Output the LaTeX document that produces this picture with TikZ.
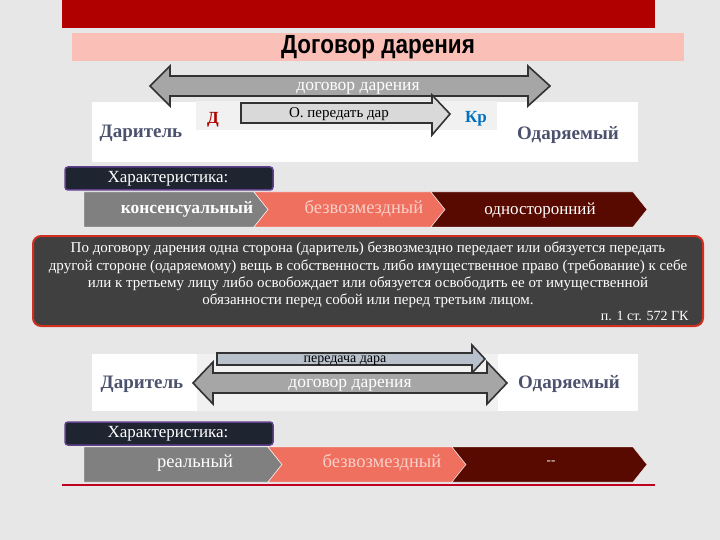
\documentclass[tikz,border=0pt]{standalone}
\usepackage{fontspec}
\setmainfont{Liberation Serif}
\newfontfamily\titlefont{Liberation Sans}
\usetikzlibrary{calc}
\definecolor{dgbg}{RGB}{231,231,231}
\definecolor{dgbar}{RGB}{176,0,0}
\definecolor{dgpink}{RGB}{250,192,184}
\definecolor{dgarrow}{RGB}{166,166,166}
\definecolor{dgshaft}{RGB}{217,217,217}
\definecolor{dgedge}{RGB}{50,50,50}
\definecolor{dgparty}{RGB}{76,82,110}
\definecolor{dgnavy}{RGB}{30,36,48}
\definecolor{dgpurple}{RGB}{96,64,140}
\definecolor{dggray}{RGB}{128,128,128}
\definecolor{dgsalmon}{RGB}{240,112,96}
\definecolor{dgmaroon}{RGB}{88,10,0}
\definecolor{dgbox}{RGB}{64,64,64}
\definecolor{dgred}{RGB}{208,48,32}
\definecolor{dgline}{RGB}{192,0,32}
\definecolor{dgblue}{RGB}{0,112,192}
\definecolor{dgpass}{RGB}{184,192,204}
\definecolor{dgpale}{RGB}{248,208,200}

\tikzset{
  party/.style={text=dgparty,font=\bfseries\fontsize{19}{21}\selectfont},
  arrowlbl/.style={text=white,font=\fontsize{17.5}{19}\selectfont},
  charbox/.style={fill=dgnavy,draw=dgpurple,line width=1.5pt,rounded corners=3pt},
  charlbl/.style={text=white,font=\fontsize{17}{19}\selectfont},
  chevlbl/.style={text=white,font=\fontsize{18.5}{20}\selectfont},
  blockarrow/.style={draw=dgedge,line width=1.6pt,line join=miter}
}

\begin{document}
\begin{tikzpicture}[x=1pt,y=-1pt]
    \useasboundingbox (0,0) rectangle (720,540);
    \fill[dgbg] (0,0) rectangle (720,540);
    % heading
    \fill[dgbar] (62,0) rectangle (655,28);
    \fill[dgpink] (72,33) rectangle (684,61);
    \node (title) at (378,47) {\titlefont\bfseries\fontsize{25}{25}\selectfont\scalebox{0.9}[1.05]{Договор дарения}};

    % upper scheme
    \fill[white] (92,102) rectangle (638,162);
    \fill[dgbg!60] (196,101) rectangle (497,130);
    \filldraw[blockarrow,fill=dgarrow] (150,86)--(170,66)--(170,76)--(528,76)--(528,66)--(550,86)--(528,106)--(528,96)--(170,96)--(170,106)--cycle;
    \node[arrowlbl] (contract1) at (358,88) {договор дарения};
    \filldraw[blockarrow,fill=dgshaft] (241,103)--(432,103)--(432,95)--(450,114)--(432,135)--(432,123)--(241,123)--cycle;
    \node[font=\fontsize{15}{17}\selectfont] (duty) at (339,114) {О. передать дар};
    \node[text=dgbar,font=\bfseries\fontsize{17}{19}\selectfont] (debtor) at (213,120) {Д};
    \node[text=dgblue,font=\bfseries\fontsize{17}{19}\selectfont] (creditor) at (476,119) {Кр};
    \node[party] (giver1) at (141,133) {Даритель};
    \node[party] (taker1) at (568,135) {Одаряемый};

    % characteristics 1
    \filldraw[charbox] (65,167) rectangle (273,190);
    \node[charlbl] (char1) at (168,179) {Характеристика:};
    \fill[dggray,draw=white] (84,192)--(254,192)--(268,209.5)--(254,227)--(84,227)--cycle;
    \fill[dgsalmon,draw=white] (254,192)--(431,192)--(445,209.5)--(431,227)--(254,227)--(268,209.5)--cycle;
    \fill[dgmaroon,draw=white] (431,192)--(633,192)--(647,209.5)--(633,227)--(431,227)--(445,209.5)--cycle;
    \node[chevlbl,font=\bfseries\fontsize{17.5}{20}\selectfont] (cons) at (187,209) {консенсуальный};
    \node[chevlbl,text=dgpale] (free1) at (364,209) {безвозмездный};
    \node[chevlbl,font=\fontsize{17}{20}\selectfont] (unil) at (540,210) {односторонний};

    % definition
    \filldraw[fill=dgbox,draw=dgred,line width=2pt,rounded corners=8pt] (33,236) rectangle (703,326);
    \node[text=white,align=center,font=\fontsize{15}{17.4}\selectfont] (def) at (368,275)
      {По договору дарения одна сторона (даритель) безвозмездно передает или обязуется передать\\
       другой стороне (одаряемому) вещь в собственность либо имущественное право (требование) к себе\\
       или к третьему лицу либо освобождает или обязуется освободить ее от имущественной\\
       обязанности перед собой или перед третьим лицом.};
    \node[text=white,anchor=east,font=\fontsize{14}{16}\selectfont] (art) at (692,316) {п. 1 ст. 572 ГК};

    % lower scheme
    \fill[white] (92,354) rectangle (638,411);
    \fill[dgbg!60] (197,354) rectangle (498,411);
    \filldraw[blockarrow,fill=dgpass] (217,353)--(472,353)--(472,345)--(485,359)--(472,373)--(472,365)--(217,365)--cycle;
    \node[font=\fontsize{14}{16}\selectfont] (pass) at (345,361) {передача дара};
    \filldraw[blockarrow,fill=dgarrow] (193,383)--(213,362)--(213,373)--(487,373)--(487,362)--(507,383)--(487,404)--(487,393)--(213,393)--(213,404)--cycle;
    \node[arrowlbl] (contract2) at (350,385) {договор дарения};
    \node[party] (giver2) at (142,384) {Даритель};
    \node[party] (taker2) at (569,384) {Одаряемый};

    % characteristics 2
    \filldraw[charbox] (65,422) rectangle (273,445);
    \node[charlbl] (char2) at (168,434) {Характеристика:};
    \fill[dggray,draw=white] (84,447)--(268,447)--(282,464.5)--(268,482)--(84,482)--cycle;
    \fill[dgsalmon,draw=white] (268,447)--(452,447)--(466,464.5)--(452,482)--(268,482)--(282,464.5)--cycle;
    \fill[dgmaroon,draw=white] (452,447)--(633,447)--(647,464.5)--(633,482)--(452,482)--(466,464.5)--cycle;
    \node[chevlbl] (real) at (195,463) {реальный};
    \node[chevlbl,text=dgpale] (free2) at (382,463) {безвозмездный};
    \node[chevlbl,font=\fontsize{13}{15}\selectfont] (none) at (551,463) {-{}-};
    \draw[dgline,line width=2pt] (62,485) -- (655,485);
\end{tikzpicture}
\end{document}
